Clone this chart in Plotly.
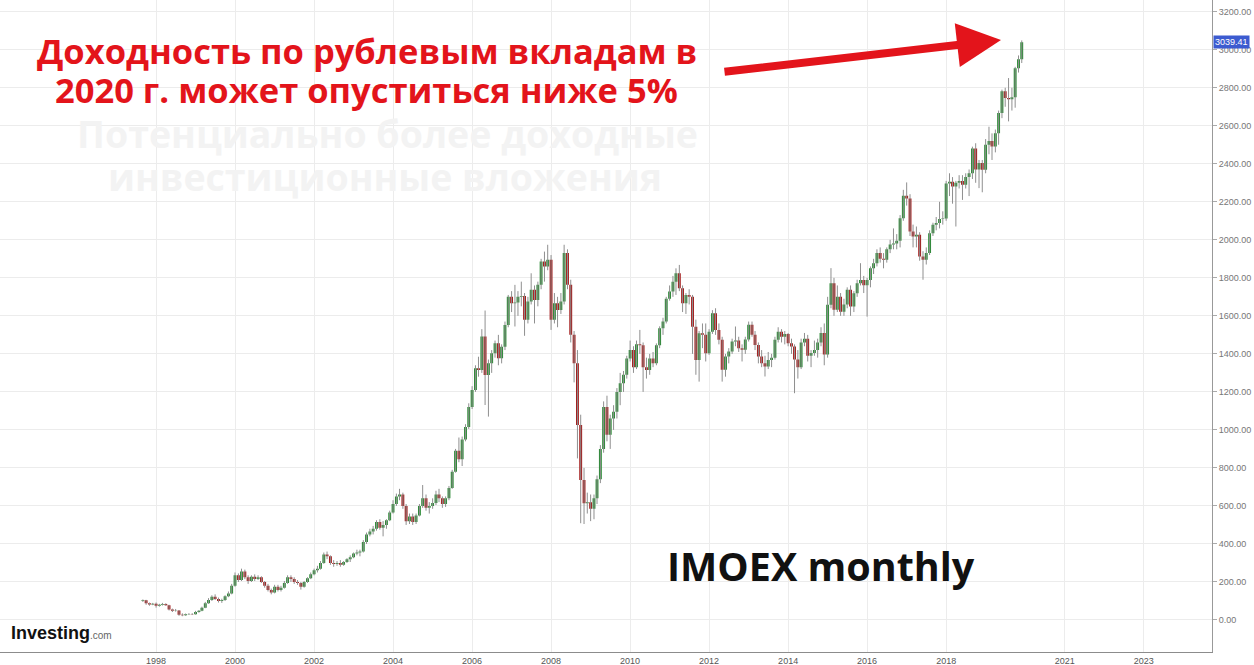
import plotly.graph_objects as go
import pandas as pd

# ---------------- data (IMOEX monthly) ----------------
months = pd.date_range("1997-09-01", "2019-12-01", freq="MS")

open_ = [
    100, 104, 88, 82,
    85, 75, 80, 84, 78, 55, 48, 50, 28, 25, 30, 32,
    30, 42, 48, 65, 88, 105, 122, 110, 100, 105, 125, 140,
    180, 235, 210, 255, 225, 205, 228, 215, 225, 200, 180, 158,
    145, 175, 158, 170, 195, 225, 215, 200, 195, 175, 200, 220,
    240, 262, 270, 300, 345, 335, 300, 295, 300, 290, 305, 320,
    330, 350, 355, 360, 410, 450, 465, 480, 515, 485, 500, 525,
    565, 610, 650, 660, 600, 520, 545, 515, 550, 600, 640, 590,
    600, 615, 660, 640, 610, 640, 695, 780, 890, 845, 950, 1015,
    1120, 1210, 1324, 1315, 1491, 1289, 1351, 1403, 1456, 1377, 1438, 1552,
    1701, 1666, 1670, 1701, 1705, 1579, 1676, 1737, 1684, 1763, 1886, 1860,
    1895, 1579, 1666, 1631, 1676, 1930, 1763, 1500, 1351, 1026, 737, 614,
    620, 585, 640, 740, 900, 1120, 975, 1060, 1095, 1200, 1245, 1290,
    1375, 1420, 1330, 1450, 1445, 1330, 1315, 1375, 1350, 1445, 1535, 1570,
    1690, 1728, 1780, 1824, 1745, 1666, 1710, 1700, 1543, 1368, 1508, 1500,
    1403, 1517, 1614, 1526, 1474, 1316, 1386, 1412, 1465, 1470, 1430, 1421,
    1475, 1553, 1500, 1447, 1386, 1351, 1333, 1368, 1380, 1474, 1517, 1490,
    1504, 1456, 1439, 1370, 1330, 1460, 1480, 1390, 1405, 1420, 1460, 1510,
    1397, 1658, 1772, 1632, 1701, 1622, 1660, 1737, 1649, 1719, 1772, 1789,
    1761, 1789, 1850, 1877, 1930, 1900, 1895, 1950, 1975, 1980, 1995, 2114,
    2232, 2218, 2044, 2017, 2026, 1912, 1895, 1930, 2035, 2079, 2088, 2109,
    2112, 2296, 2305, 2280, 2300, 2310, 2290, 2330, 2350, 2480, 2370, 2404,
    2369, 2500, 2520, 2491, 2561, 2667, 2781, 2746, 2740, 2750, 2903, 2950,
]

high = [
    108, 106, 92, 90,
    92, 85, 90, 88, 80, 60, 58, 52, 35, 34, 36, 36,
    48, 52, 70, 95, 115, 130, 135, 118, 112, 130, 150, 190,
    250, 245, 270, 265, 235, 235, 240, 235, 230, 205, 190, 165,
    185, 185, 180, 205, 235, 235, 225, 210, 200, 205, 225, 250,
    270, 285, 310, 355, 360, 340, 315, 310, 315, 310, 325, 340,
    355, 370, 370, 420, 460, 480, 495, 525, 530, 520, 530, 575,
    630, 665, 690, 670, 610, 560, 560, 560, 610, 710, 660, 620,
    640, 680, 690, 650, 650, 705, 790, 900, 960, 965, 1030, 1140,
    1230, 1340, 1385, 1530, 1628, 1370, 1420, 1470, 1500, 1450, 1570, 1710,
    1730, 1763, 1730, 1780, 1720, 1700, 1824, 1760, 1780, 1900, 1938, 1974,
    1920, 1720, 1700, 1720, 1974, 1950, 1790, 1520, 1420, 1080, 800, 670,
    660, 660, 760, 920, 1150, 1180, 1080, 1130, 1220, 1300, 1310, 1390,
    1470, 1440, 1470, 1526, 1460, 1380, 1400, 1410, 1455, 1545, 1590, 1700,
    1760, 1810, 1850, 1868, 1760, 1720, 1740, 1710, 1580, 1520, 1560, 1560,
    1530, 1630, 1640, 1560, 1490, 1400, 1430, 1480, 1544, 1490, 1450, 1490,
    1570, 1570, 1520, 1460, 1420, 1390, 1410, 1400, 1490, 1540, 1530, 1520,
    1510, 1480, 1450, 1420, 1480, 1510, 1500, 1420, 1470, 1480, 1540, 1560,
    1700, 1851, 1800, 1760, 1720, 1690, 1750, 1760, 1730, 1790, 1877, 1810,
    1800, 1860, 1900, 1950, 1960, 1930, 1960, 2000, 2060, 2030, 2130, 2263,
    2302, 2240, 2080, 2070, 2040, 1940, 1960, 2050, 2090, 2120, 2200, 2150,
    2310, 2350, 2330, 2310, 2340, 2340, 2350, 2370, 2490, 2508, 2420, 2420,
    2530, 2595, 2560, 2580, 2680, 2790, 2800, 2851, 2800, 2910, 2970, 3049,
]

low = [
    95, 80, 75, 78,
    65, 70, 76, 74, 50, 42, 44, 22, 20, 22, 27, 26,
    28, 38, 46, 62, 85, 100, 105, 92, 90, 100, 120, 135,
    175, 200, 205, 215, 190, 200, 205, 210, 195, 170, 150, 135,
    140, 150, 150, 165, 190, 200, 190, 185, 160, 170, 195, 215,
    235, 250, 265, 295, 320, 290, 280, 285, 280, 285, 300, 305,
    325, 340, 335, 355, 400, 440, 450, 470, 475, 440, 480, 520,
    560, 600, 630, 585, 500, 505, 500, 505, 545, 590, 575, 560,
    585, 605, 620, 590, 595, 630, 690, 775, 830, 810, 940, 1005,
    1110, 1200, 1280, 1300, 1131, 1070, 1300, 1380, 1340, 1350, 1420, 1540,
    1620, 1544, 1600, 1650, 1495, 1560, 1660, 1560, 1650, 1740, 1780, 1840,
    1526, 1560, 1540, 1610, 1660, 1740, 1460, 1250, 850, 509, 505, 560,
    520, 530, 610, 720, 880, 940, 900, 1000, 1060, 1130, 1200, 1270,
    1360, 1300, 1320, 1400, 1200, 1270, 1290, 1330, 1340, 1430, 1500, 1560,
    1680, 1700, 1710, 1730, 1620, 1610, 1660, 1400, 1290, 1254, 1430, 1360,
    1395, 1505, 1500, 1450, 1254, 1280, 1350, 1400, 1440, 1410, 1360, 1400,
    1465, 1490, 1420, 1350, 1330, 1281, 1320, 1330, 1370, 1460, 1460, 1450,
    1440, 1400, 1193, 1270, 1320, 1440, 1360, 1330, 1390, 1380, 1440, 1340,
    1380, 1640, 1600, 1620, 1600, 1600, 1640, 1600, 1620, 1700, 1760, 1720,
    1596, 1750, 1820, 1860, 1880, 1850, 1880, 1930, 1950, 1950, 1960, 2100,
    2180, 2020, 1960, 1960, 1890, 1790, 1870, 1920, 2020, 2050, 2060, 2080,
    2100, 2230, 2190, 2070, 2270, 2210, 2270, 2230, 2320, 2300, 2272, 2250,
    2350, 2450, 2420, 2460, 2500, 2640, 2700, 2623, 2680, 2695, 2880, 2930,
]

close = [
    104, 88, 82, 85,
    75, 80, 84, 78, 55, 48, 50, 28, 25, 30, 32, 30,
    42, 48, 65, 88, 105, 122, 110, 100, 105, 125, 140, 180,
    235, 210, 255, 225, 205, 228, 215, 225, 200, 180, 158, 145,
    175, 158, 170, 195, 225, 215, 200, 195, 175, 200, 220, 240,
    262, 270, 300, 345, 335, 300, 295, 300, 290, 305, 320, 330,
    350, 355, 360, 410, 450, 465, 480, 515, 485, 500, 525, 565,
    610, 650, 660, 600, 520, 545, 515, 550, 600, 640, 590, 600,
    615, 660, 640, 610, 640, 695, 780, 890, 845, 950, 1015, 1120,
    1210, 1324, 1315, 1491, 1289, 1351, 1403, 1456, 1377, 1438, 1552, 1701,
    1666, 1670, 1701, 1705, 1579, 1676, 1737, 1684, 1763, 1886, 1860, 1895,
    1579, 1666, 1631, 1676, 1930, 1763, 1500, 1351, 1026, 737, 614, 620,
    585, 640, 740, 900, 1120, 975, 1060, 1095, 1200, 1245, 1290, 1375,
    1420, 1330, 1450, 1445, 1330, 1315, 1375, 1350, 1445, 1535, 1570, 1690,
    1728, 1780, 1824, 1745, 1666, 1710, 1700, 1543, 1368, 1508, 1500, 1403,
    1517, 1614, 1526, 1474, 1316, 1386, 1412, 1465, 1470, 1430, 1421, 1475,
    1553, 1500, 1447, 1386, 1351, 1333, 1368, 1380, 1474, 1517, 1490, 1504,
    1456, 1439, 1370, 1330, 1460, 1480, 1390, 1405, 1420, 1460, 1510, 1397,
    1658, 1772, 1632, 1701, 1622, 1660, 1737, 1649, 1719, 1772, 1789, 1761,
    1789, 1850, 1877, 1930, 1900, 1895, 1950, 1975, 1980, 1995, 2114, 2232,
    2218, 2044, 2017, 2026, 1912, 1895, 1930, 2035, 2079, 2088, 2109, 2112,
    2296, 2305, 2280, 2300, 2310, 2290, 2330, 2350, 2480, 2370, 2404, 2369,
    2500, 2520, 2491, 2561, 2667, 2781, 2746, 2740, 2750, 2903, 2950, 3039.41,
]

x_tick_years = [1998, 2000, 2002, 2004, 2006, 2008, 2010, 2012, 2014, 2016, 2018, 2021, 2023]
y_tick_values = [0, 200, 400, 600, 800, 1000, 1200, 1400, 1600, 1800, 2000,
                 2200, 2400, 2600, 2800, 3000, 3200]

title_lines = ["Доходность по рублевым вкладам в", "2020 г. может опуститься ниже 5%"]
faded_lines = ["Потенциально более доходные", "инвестиционные вложения"]
series_label = "IMOEX monthly"

# ---------------- figure ----------------
fig = go.Figure()

# grey wicks (built from the high/low lists)
wick_x, wick_y = [], []
for d, h, l in zip(months, high, low):
    wick_x += [d, d, None]
    wick_y += [l, h, None]
fig.add_trace(go.Scatter(x=wick_x, y=wick_y, mode="lines",
                         line=dict(color="#8f8f8f", width=1),
                         hoverinfo="skip", showlegend=False))

fig.add_trace(go.Candlestick(
    x=months, open=open_, high=high, low=low, close=close,
    increasing=dict(fillcolor="#2b8a35", line=dict(color="#2b8a35", width=0)),
    decreasing=dict(fillcolor="#a31a1a", line=dict(color="#a31a1a", width=0)),
    whiskerwidth=0, showlegend=False,
))

W, H = 1254, 665
L, R, T, B = 0, 42, 0, 13
PW, PH = W - L - R, H - T - B


def px(x):
    return x / PW


def py(y):
    return 1 - y / PH


TEXT_FONT = "Open Sans, Liberation Sans, Arial, sans-serif"

fig.update_layout(
    width=W, height=H,
    margin=dict(l=L, r=R, t=T, b=B, autoexpand=False),
    paper_bgcolor="white", plot_bgcolor="white",
    showlegend=False, boxgap=0.05, boxgroupgap=0,
    font=dict(family="Liberation Sans, Arial, sans-serif"),
)

fig.update_xaxes(
    type="date", range=["1994-01-19", "2024-09-24"],
    tickvals=[f"{y}-01-01" for y in x_tick_years],
    ticktext=[str(y) for y in x_tick_years],
    showgrid=True, gridcolor="#ececec", gridwidth=1,
    showline=True, linecolor="#8c8c8c", linewidth=1,
    ticks="", tickfont=dict(size=9, color="#555555"),
    rangeslider=dict(visible=False), automargin=False, zeroline=False,
)

fig.update_yaxes(
    side="right", range=[-168.4, 3261.6],
    tickvals=y_tick_values, tickformat=".2f",
    showgrid=True, gridcolor="#ececec", gridwidth=1,
    showline=True, linecolor="#999999", linewidth=1,
    ticks="outside", ticklen=4, tickcolor="#aaaaaa",
    tickfont=dict(size=9, color="#777777"),
    automargin=False, zeroline=False,
)

# white box that hides the old caption
fig.add_shape(type="rect", xref="paper", yref="paper",
              x0=px(35), x1=px(702), y0=py(206), y1=1.0,
              fillcolor="white", line=dict(width=0), layer="between")

# faded old caption
fig.add_annotation(xref="paper", yref="paper", x=px(387), y=py(133),
                   text="<b>" + faded_lines[0] + "</b>", showarrow=False,
                   font=dict(size=37.5, color="#f3f3f3", family=TEXT_FONT),
                   xanchor="center", yanchor="middle", borderpad=0)
fig.add_annotation(xref="paper", yref="paper", x=px(385), y=py(176),
                   text="<b>" + faded_lines[1] + "</b>", showarrow=False,
                   font=dict(size=37.5, color="#f3f3f3", family=TEXT_FONT),
                   xanchor="center", yanchor="middle", borderpad=0)

# red headline (two lines)
fig.add_annotation(xref="paper", yref="paper", x=px(367), y=py(51),
                   text="<b>" + title_lines[0] + "</b>",
                   showarrow=False, font=dict(size=34.5, color="#e3141b", family=TEXT_FONT),
                   xanchor="center", yanchor="middle", borderpad=0)
fig.add_annotation(xref="paper", yref="paper", x=px(367), y=py(89),
                   text="<b>" + title_lines[1] + "</b>",
                   showarrow=False, font=dict(size=34.5, color="#e3141b", family=TEXT_FONT),
                   xanchor="center", yanchor="middle", borderpad=0)

# red arrow
fig.add_annotation(xref="paper", yref="paper", x=px(1001), y=py(40),
                   ax=723 - 1001, ay=72 - 40, text="", showarrow=True,
                   arrowhead=2, arrowsize=1.1, arrowwidth=8,
                   arrowcolor="#e3141b", standoff=0)

# series label
fig.add_annotation(xref="paper", yref="paper", x=px(821), y=py(566),
                   text="<b>" + series_label + "</b>", showarrow=False,
                   font=dict(size=39.5, color="#111111", family=TEXT_FONT),
                   xanchor="center", yanchor="middle")

# Investing.com logo
fig.add_annotation(xref="paper", yref="paper", x=px(9), y=py(633),
                   text="<b>Investing</b><span style='font-size:10px;color:#666666'>.com</span>",
                   showarrow=False, font=dict(size=18, color="#111111"),
                   xanchor="left", yanchor="middle")

# last price label
fig.add_annotation(xref="paper", yref="y", x=1.0, y=close[-1], xshift=1,
                   text=f"{close[-1]:.2f}", showarrow=False,
                   font=dict(size=9, color="white"), bgcolor="#3c5bd0",
                   borderpad=1, xanchor="left", yanchor="middle")

fig.write_html(
    "out.html",
    config={"displayModeBar": False},
    post_script="document.body.style.margin='0';document.body.style.overflow='hidden';",
)
